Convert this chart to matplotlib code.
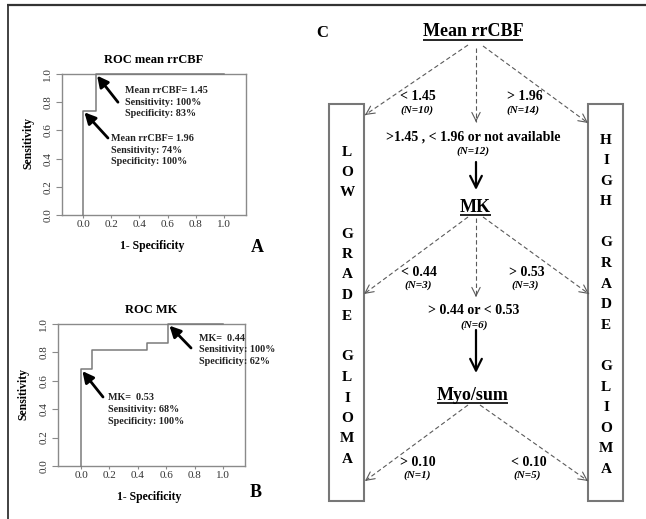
import matplotlib
matplotlib.use("Agg")
import matplotlib.pyplot as plt
from matplotlib.patches import Rectangle
import numpy as np

plt.rcParams['font.family'] = ['Liberation Serif', 'DejaVu Serif']

# ---------------- data ----------------
# ROC A: mean rrCBF
roc_a_fpr = [0.0, 0.0, 0.09, 0.09, 1.0]
roc_a_tpr = [0.0, 0.74, 0.74, 1.0, 1.0]
roc_a_title = "ROC mean rrCBF"
roc_a_notes = ["Mean rrCBF= 1.45\nSensitivity: 100%\nSpecificity: 83%",
               "Mean rrCBF= 1.96\nSensitivity: 74%\nSpecificity: 100%"]
roc_a_points = [(0.09, 1.0), (0.0, 0.74)]

# ROC B: MK
roc_b_fpr = [0.0, 0.0, 0.077, 0.077, 0.465, 0.465, 0.613, 0.613, 1.0]
roc_b_tpr = [0.0, 0.68, 0.68, 0.82, 0.82, 0.866, 0.866, 1.0, 1.0]
roc_b_title = "ROC MK"
roc_b_notes = ["MK=  0.44\nSensitivity: 100%\nSpecificity: 62%",
               "MK=  0.53\nSensitivity: 68%\nSpecificity: 100%"]
roc_b_points = [(0.613, 1.0), (0.0, 0.68)]

ticks = [0.0, 0.2, 0.4, 0.6, 0.8, 1.0]
tick_labels = ["0.0", "0.2", "0.4", "0.6", "0.8", "1.0"]

# Decision tree C
tree_levels = ["Mean rrCBF", "MK", "Myo/sum"]
low_labels = ["< 1.45", "< 0.44", "> 0.10"]
low_n = ["(N=10)", "(N=3)", "(N=1)"]
high_labels = ["> 1.96", "> 0.53", "< 0.10"]
high_n = ["(N=14)", "(N=3)", "(N=5)"]
mid_labels = [">1.45 , < 1.96 or not available", "> 0.44 or < 0.53"]
mid_n = ["(N=12)", "(N=6)"]
low_box = "LOW GRADE GLIOMA"
high_box = "HIGH GRADE GLIOMA"

# ---------------- figure ----------------
W, H = 646, 519
fig = plt.figure(figsize=(W / 100, H / 100), dpi=100)

ov = fig.add_axes([0, 0, 1, 1])
ov.set_xlim(0, W)
ov.set_ylim(H, 0)
ov.axis('off')

# frame lines
ov.plot([7, 646], [5, 5], color='#333333', lw=1.6, solid_capstyle='butt')
ov.plot([7.5, 7.5], [5, 519], color='#333333', lw=1.3, solid_capstyle='butt')

GRAY = '#8a8a8a'


def roc_panel(rect, fpr, tpr, xlim, title, notes, points, note_pos, tails, letter, letter_pos):
    ax = fig.add_axes(rect)
    ax.plot(fpr, tpr, color='#7a7a7a', lw=1.1, clip_on=False, zorder=3)
    ax.set_xlim(*xlim)
    ax.set_ylim(0, 1)
    for s in ax.spines.values():
        s.set_color(GRAY)
        s.set_linewidth(1.0)
    ax.set_xticks(ticks)
    ax.set_xticklabels(tick_labels)
    ax.set_yticks(ticks)
    ax.set_yticklabels(tick_labels, rotation=90, va='center')
    ax.tick_params(axis='x', length=2, width=0.8, color=GRAY, labelsize=8, labelcolor='#333333', pad=1.5)
    ax.tick_params(axis='y', length=4, width=0.8, color=GRAY, labelsize=8, labelcolor='#333333', pad=3)
    ax.text(0.5, 1.1, title, transform=ax.transAxes, ha='center', va='center',
            fontsize=9, fontweight='bold')
    ax.text(0.49, -0.22, "1- Specificity", transform=ax.transAxes, ha='center', va='center',
            fontsize=8.5, fontweight='bold')
    ax.text(-0.185, 0.51, "Sensitivity", transform=ax.transAxes, ha='center', va='center',
            fontsize=8.5, fontweight='bold', rotation=90)
    ax.text(letter_pos[0], letter_pos[1], letter, transform=ax.transAxes, ha='center', va='center',
            fontsize=13, fontweight='bold')
    for note, (nx, ny) in zip(notes, note_pos):
        ax.text(nx, ny, note, ha='left', va='center', fontsize=7.3, fontweight='bold',
                linespacing=1.4, color='#222222')
    for (px, py), (tx, ty) in zip(points, tails):
        ax.annotate('', xy=(px + 0.01, py - 0.012), xytext=(tx, ty),
                    arrowprops=dict(arrowstyle='-|>,head_length=0.55,head_width=0.28',
                                    color='black', lw=2.0, mutation_scale=12,
                                    shrinkA=0, shrinkB=0),
                    annotation_clip=False)
    return ax


roc_panel([62 / W, 1 - 215 / H, 184 / W, 141 / H], roc_a_fpr, roc_a_tpr, (-0.149, 1.156),
          roc_a_title, roc_a_notes, roc_a_points,
          [(0.298, 0.80), (0.199, 0.46)], [(0.248, 0.80), (0.177, 0.546)],
          "A", (1.06, -0.234))

roc_panel([58 / W, 1 - 466 / H, 187 / W, 142 / H], roc_b_fpr, roc_b_tpr, (-0.162, 1.155),
          roc_b_title, roc_b_notes, roc_b_points,
          [(0.831, 0.817), (0.19, 0.40)], [(0.775, 0.831), (0.155, 0.486)],
          "B", (1.059, -0.19))

# ---------------- panel C ----------------
ov.text(322, 33, "C", fontsize=12, fontweight='bold', ha='center', va='center')

level_pos = [(473, 32), (475, 207), (472.5, 395)]
level_texts = []
for name, (x, y) in zip(tree_levels, level_pos):
    t = ov.text(x, y, name, fontsize=13, fontweight='bold', ha='center', va='center')
    level_texts.append((t, y))

low_pos = [(418, 97), (419, 272), (418, 462)]
high_pos = [(525, 97), (527, 272), (529, 462)]
for lab, n, (x, y) in zip(low_labels, low_n, low_pos):
    ov.text(x, y, lab, fontsize=10, fontweight='bold', ha='center', va='center')
    ov.text(x - 1, y + 13.5, n, fontsize=8, fontweight='bold', style='italic', ha='center', va='center')
for lab, n, (x, y) in zip(high_labels, high_n, high_pos):
    ov.text(x, y, lab, fontsize=10, fontweight='bold', ha='center', va='center')
    ov.text(x - 2, y + 13.5, n, fontsize=8, fontweight='bold', style='italic', ha='center', va='center')

mid_pos = [(473.5, 137), (474, 311)]
for lab, n, (x, y) in zip(mid_labels, mid_n, mid_pos):
    ov.text(x, y, lab, fontsize=10, fontweight='bold', ha='center', va='center')
    ov.text(x, y + 14.5, n, fontsize=8, fontweight='bold', style='italic', ha='center', va='center')

# dashed arrows
DASH = '#5a5a5a'
dashed = [((468, 45), (365, 115)), ((476, 48), (476, 122)), ((483, 46), (588, 123)),
          ((468, 217), (364, 294)), ((476, 218), (476, 297)), ((483, 217), (589, 294)),
          ((468, 405), (365, 481)), ((480, 405), (588, 481))]
for (x0, y0), (x1, y1) in dashed:
    ov.plot([x0, x1], [y0, y1], color=DASH, lw=0.8, linestyle=(0, (4, 2.5)))
    d = np.array([x1 - x0, y1 - y0], dtype=float)
    d /= np.hypot(*d)
    ov.annotate('', xy=(x1, y1), xytext=(x1 - 2 * d[0], y1 - 2 * d[1]),
                arrowprops=dict(arrowstyle='->,head_length=0.6,head_width=0.3',
                                color=DASH, lw=0.8, mutation_scale=10, shrinkA=0, shrinkB=0))

# solid arrows
for (x0, y0), (x1, y1) in [((476, 162), (476, 190)), ((476, 330), (476, 373))]:
    ov.annotate('', xy=(x1, y1), xytext=(x0, y0),
                arrowprops=dict(arrowstyle='->,head_length=0.7,head_width=0.35',
                                color='black', lw=1.6, mutation_scale=12, shrinkA=0, shrinkB=0))

# side boxes
for x0, x1 in [(329, 364), (588, 623)]:
    ov.add_patch(Rectangle((x0, 104), x1 - x0, 501 - 104, fill=False,
                           edgecolor='#777777', lw=1.5))

for txt, xc, y0, step in [(low_box, 347, 152, 20.5), (high_box, 606, 140, 20.6)]:
    for i, ch in enumerate(txt):
        if ch != ' ':
            ov.text(xc, y0 + i * step, ch, fontsize=11, fontweight='bold', ha='center', va='center')

# underline the tree level names
fig.canvas.draw()
r = fig.canvas.get_renderer()
inv = ov.transData.inverted()
for t, y in level_texts:
    bb = t.get_window_extent(r)
    (xa, _), (xb, _) = inv.transform([(bb.x0, bb.y0), (bb.x1, bb.y0)])
    ov.plot([xa, xb], [y + 7.5, y + 7.5], color='black', lw=1.2, solid_capstyle='butt')

fig.savefig("out.png", dpi=100)
